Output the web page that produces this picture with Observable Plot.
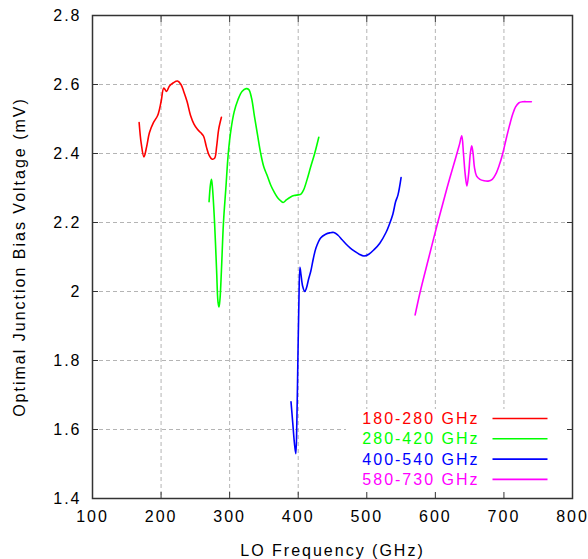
<!DOCTYPE html>
<html><head><meta charset="utf-8">
<script src="https://cdn.jsdelivr.net/npm/d3@7"></script>
<script src="https://cdn.jsdelivr.net/npm/@observablehq/plot@0.6"></script>
<style>
html,body{margin:0;padding:0;background:#fff;}
#chart{width:588px;height:559px;}
</style>
</head><body><div id="chart"></div>
<script>
// ---- data ----
const seriesNames = ["180-280 GHz", "280-420 GHz", "400-540 GHz", "580-730 GHz"];
const seriesColors = ["#ff0000", "#00ff00", "#0000ff", "#ff00ff"];

const redFreq = [168, 171, 175, 179, 183, 189, 195, 200, 204, 208, 212, 218, 224, 229, 233, 238, 243, 248, 253, 258, 262, 266, 270, 274, 278, 281, 284, 288];
const redBias = [2.49, 2.43, 2.39, 2.42, 2.46, 2.49, 2.51, 2.55, 2.59, 2.58, 2.595, 2.605, 2.61, 2.60, 2.58, 2.55, 2.51, 2.485, 2.47, 2.46, 2.45, 2.42, 2.395, 2.384, 2.386, 2.42, 2.47, 2.505];

const greenFreq = [270, 272, 273.5, 275, 278, 281, 283, 284.5, 286, 288, 291, 294.5, 298, 302, 306.5, 312, 318, 324, 328, 332, 336, 340.5, 345.5, 350, 355, 360, 365, 370, 375, 378, 383, 389, 394, 400, 404, 408, 413, 418, 424, 430];
const greenBias = [2.26, 2.31, 2.325, 2.30, 2.20, 2.06, 1.97, 1.955, 1.98, 2.06, 2.20, 2.30, 2.40, 2.47, 2.52, 2.555, 2.58, 2.588, 2.585, 2.56, 2.51, 2.456, 2.398, 2.36, 2.335, 2.308, 2.288, 2.272, 2.262, 2.258, 2.266, 2.274, 2.278, 2.28, 2.282, 2.295, 2.325, 2.36, 2.40, 2.447];

const blueFreq = [389.5, 392, 394.5, 396.5, 398, 399.5, 401, 402.5, 404, 406.5, 409.5, 412, 415, 418.5, 422, 426, 433, 440, 446, 452, 458, 464, 470, 476, 482, 489, 496, 503, 511, 519, 528, 533, 538, 542, 545.5, 550];
const blueBias = [1.68, 1.62, 1.56, 1.53, 1.62, 1.80, 1.97, 2.07, 2.05, 2.015, 2.0, 2.01, 2.035, 2.06, 2.095, 2.127, 2.156, 2.166, 2.17, 2.171, 2.163, 2.15, 2.137, 2.126, 2.117, 2.108, 2.103, 2.108, 2.122, 2.14, 2.171, 2.195, 2.224, 2.26, 2.28, 2.33];

const magentaFreq = [570.5, 578, 590, 603.5, 617, 630, 635, 638.5, 641, 643.5, 646, 648.5, 651, 653, 655, 657, 660, 665, 671, 677, 683, 688, 693, 698, 703, 708, 713, 717, 722, 728, 735, 740];
const magentaBias = [1.932, 2.0, 2.095, 2.2, 2.3, 2.39, 2.425, 2.451, 2.40, 2.34, 2.306, 2.34, 2.40, 2.422, 2.40, 2.36, 2.335, 2.325, 2.321, 2.32, 2.325, 2.34, 2.365, 2.398, 2.44, 2.48, 2.515, 2.535, 2.547, 2.55, 2.55, 2.55];

const xTicks = [100, 200, 300, 400, 500, 600, 700, 800];
const yTicks = [1.4, 1.6, 1.8, 2.0, 2.2, 2.4, 2.6, 2.8];
const yTickLabels = ["1.4", "1.6", "1.8", "2", "2.2", "2.4", "2.6", "2.8"];
const xTitle = "LO Frequency (GHz)";
const yTitle = "Optimal Junction Bias Voltage (mV)";

// ---- build table ----
const seriesFreq = [redFreq, greenFreq, blueFreq, magentaFreq];
const seriesBias = [redBias, greenBias, blueBias, magentaBias];
const rows = [];
seriesNames.forEach((name, s) => {
  seriesFreq[s].forEach((f, i) => rows.push({series: name, freq: f, bias: seriesBias[s][i]}));
});

const font = "'Liberation Sans', Arial, Helvetica, sans-serif";
const tickStroke = "#333";

const plot = Plot.plot({
  width: 588,
  height: 559,
  marginLeft: 92,
  marginRight: 16,
  marginTop: 15,
  marginBottom: 61,
  style: {fontFamily: font, fontSize: "16px", letterSpacing: "2px", background: "#fff", color: "#000", overflow: "visible"},
  x: {domain: [100, 800]},
  y: {domain: [1.4, 2.8]},
  color: {domain: seriesNames, range: seriesColors},
  marks: [
    Plot.gridX(xTicks, {stroke: "#b4b4b4", strokeOpacity: 1, strokeDasharray: "4,3"}),
    Plot.gridY(yTicks, {stroke: "#b4b4b4", strokeOpacity: 1, strokeDasharray: "4,3"}),
    Plot.line(rows, {x: "freq", y: "bias", z: "series", stroke: "series", strokeWidth: 1.6, curve: "catmull-rom"}),
    Plot.frame({stroke: "#333", strokeWidth: 1.5}),
    Plot.axisX(xTicks, {anchor: "bottom", tickSize: -6, fill: "none", stroke: tickStroke}),
    Plot.axisX(xTicks, {anchor: "top", tickSize: -6, fill: "none", stroke: tickStroke}),
    Plot.axisY(yTicks, {anchor: "left", tickSize: -6, fill: "none", stroke: tickStroke}),
    Plot.axisY(yTicks, {anchor: "right", tickSize: -6, fill: "none", stroke: tickStroke}),
    Plot.axisX(xTicks, {anchor: "bottom", tickSize: 0, tickPadding: 12, label: xTitle, labelAnchor: "center", labelOffset: 57, labelArrow: "none"}),
    Plot.axisY(yTicks, {anchor: "left", tickSize: 0, tickPadding: 11, tickFormat: d => yTickLabels[yTicks.indexOf(d)], label: yTitle, labelAnchor: "center", labelOffset: 79, labelArrow: "none"})
  ]
});

document.getElementById("chart").appendChild(plot);

// ---- key (legend) with opaque background, gnuplot style ----
const svg = d3.select(plot);
const sx = plot.scale("x"), sy = plot.scale("y");
const frameRight = sx.apply(800), frameBottom = sy.apply(1.4);
const curvesNode = svg.select('g[aria-label="line"]').node();
const bg = document.createElementNS("http://www.w3.org/2000/svg", "rect");
d3.select(bg).attr("x", frameRight - 226).attr("y", frameBottom - 89).attr("width", 225).attr("height", 88).attr("fill", "#fff");
if (curvesNode) plot.insertBefore(bg, curvesNode);

const key = svg.append("g").attr("class", "key");
seriesNames.forEach((name, i) => {
  const cy = frameBottom - 79.5 + i * 20.3;
  key.append("text")
    .attr("x", frameRight - 92.5).attr("y", cy).attr("dy", "0.35em")
    .attr("text-anchor", "end").attr("fill", seriesColors[i])
    .text(name);
  key.append("line")
    .attr("x1", frameRight - 79.5).attr("x2", frameRight - 24.5)
    .attr("y1", cy).attr("y2", cy)
    .attr("stroke", seriesColors[i]).attr("stroke-width", 1.6);
});
</script>
</body></html>
